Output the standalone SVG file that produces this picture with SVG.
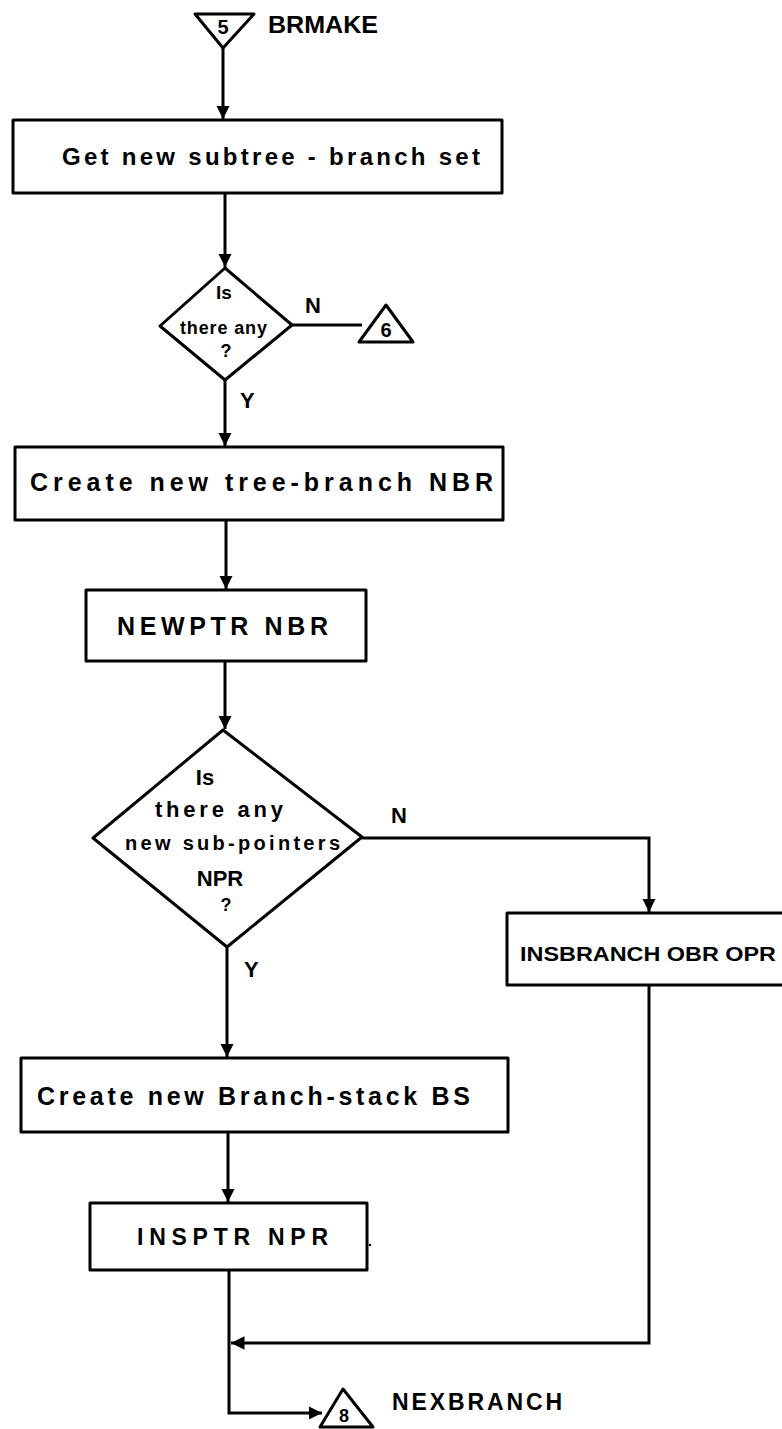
<svg xmlns="http://www.w3.org/2000/svg" width="782" height="1429" viewBox="0 0 782 1429">
<defs>
<style>
.shape{fill:none;stroke:#000;stroke-width:3;stroke-linejoin:round}
.wire{fill:none;stroke:#000;stroke-width:3}
.t{font-family:"Liberation Sans",Arial,sans-serif;font-weight:bold;fill:#000}
.lbl{font-family:"Liberation Sans",Arial,sans-serif;font-weight:bold;fill:#000;font-size:22px}
</style>
<marker id="arr" viewBox="0 0 10 10" refX="10" refY="5" markerWidth="4.5" markerHeight="4.5" orient="auto" markerUnits="strokeWidth">
<path d="M0,0 L10,5 L0,10 z" fill="#000"/>
</marker>
</defs>
<rect width="782" height="1429" fill="#fff"/>

<g id="connectors">
<path class="wire" d="M223,48 L223,119" marker-end="url(#arr)"/>
<path class="wire" d="M225,193 L225,267" marker-end="url(#arr)"/>
<path class="wire" d="M292,325 L362,325"/>
<path class="wire" d="M225,380 L225,446" marker-end="url(#arr)"/>
<path class="wire" d="M226,520 L226,589" marker-end="url(#arr)"/>
<path class="wire" d="M225,661 L225,729" marker-end="url(#arr)"/>
<path class="wire" d="M362,838 L649,838 L649,912" marker-end="url(#arr)"/>
<path class="wire" d="M227,947 L227,1057" marker-end="url(#arr)"/>
<path class="wire" d="M228,1132 L228,1202" marker-end="url(#arr)"/>
<path class="wire" d="M229,1270 L229,1413 L322,1413" marker-end="url(#arr)"/>
<path class="wire" d="M649,985 L649,1343 L231,1343" marker-end="url(#arr)"/>
<text class="lbl" x="305" y="313">N</text>
<text class="lbl" x="240" y="408">Y</text>
<text class="lbl" x="391" y="823">N</text>
<text class="lbl" x="244" y="977">Y</text>
</g>

<g id="start">
<path class="shape" d="M195,14 L254,14 L223,48 Z"/>
<text class="t" x="223" y="34" font-size="20" text-anchor="middle">5</text>
<text class="t" x="268" y="33" font-size="24" textLength="110" lengthAdjust="spacingAndGlyphs">BRMAKE</text>
</g>

<g id="get-set">
<rect class="shape" x="13" y="120" width="489" height="73"/>
<text class="t" x="62" y="165" font-size="24" textLength="418" lengthAdjust="spacing">Get new subtree - branch set</text>
</g>

<g id="dec1">
<path class="shape" d="M225,268 L292,325 L225,380 L160,326 Z"/>
<text class="t" x="224" y="299" font-size="19" text-anchor="middle">Is</text>
<text class="t" x="180" y="334" font-size="18" textLength="87" lengthAdjust="spacing">there any</text>
<text class="t" x="226" y="357" font-size="18" text-anchor="middle">?</text>
</g>

<g id="off6">
<path class="shape" d="M359,342 L386,305 L413,342 Z"/>
<text class="t" x="386" y="337" font-size="20" text-anchor="middle">6</text>
</g>

<g id="create-nbr">
<rect class="shape" x="15" y="447" width="488" height="73"/>
<text class="t" x="30" y="491" font-size="25" textLength="463" lengthAdjust="spacing">Create new tree-branch NBR</text>
</g>

<g id="newptr">
<rect class="shape" x="86" y="590" width="280" height="71"/>
<text class="t" x="117" y="635" font-size="25" textLength="211" lengthAdjust="spacing">NEWPTR  NBR</text>
</g>

<g id="dec2">
<path class="shape" d="M223,730 L362,837 L227,947 L93,838 Z"/>
<text class="t" x="205" y="785" font-size="22" text-anchor="middle">Is</text>
<text class="t" x="155" y="817" font-size="22" textLength="128" lengthAdjust="spacing">there any</text>
<text class="t" x="125" y="850" font-size="20" textLength="215" lengthAdjust="spacing">new sub-pointers</text>
<text class="t" x="220" y="886" font-size="22" text-anchor="middle">NPR</text>
<text class="t" x="226" y="911" font-size="18" text-anchor="middle">?</text>
</g>

<g id="insbranch">
<path class="shape" d="M784,913 L507,913 L507,985 L784,985"/>
<text class="t" x="520" y="961" font-size="20" textLength="256" lengthAdjust="spacingAndGlyphs">INSBRANCH OBR OPR</text>
</g>

<g id="create-bs">
<rect class="shape" x="21" y="1058" width="487" height="74"/>
<text class="t" x="37" y="1105" font-size="25" textLength="433" lengthAdjust="spacing">Create new Branch-stack BS</text>
</g>

<g id="insptr">
<rect class="shape" x="90" y="1203" width="277" height="67"/>
<text class="t" x="137" y="1245" font-size="23" textLength="191" lengthAdjust="spacing">INSPTR  NPR</text>
<circle cx="370" cy="1245" r="1.2" fill="#000"/>
</g>

<g id="off8">
<path class="shape" d="M320,1427 L343,1389 L373,1427 Z"/>
<text class="t" x="344" y="1422" font-size="18" text-anchor="middle">8</text>
<text class="t" x="392" y="1410" font-size="23" textLength="170" lengthAdjust="spacing">NEXBRANCH</text>
</g>
</svg>
